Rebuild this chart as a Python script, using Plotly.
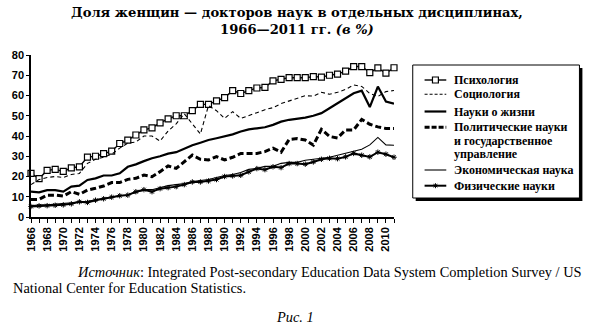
import plotly.graph_objects as go

# ---- data -------------------------------------------------------------
years = list(range(1966, 2012))

psychology = [21.5, 19, 23, 23.5, 22.5, 24.3, 24.8, 29.6, 30, 31.3,
              32.5, 36.3, 38, 40.5, 43, 44, 46.5, 48.5, 50, 50,
              52.5, 55.6, 55.6, 57.3, 59, 62.4, 61, 62.4, 63.7, 64,
              67.2, 68, 68.8, 68.8, 68.8, 69.3, 69.1, 70, 70.6, 72,
              74.3, 74.3, 71.3, 73.6, 71, 73.7]

sociology = [16, 18.5, 19.5, 20, 19.5, 21, 21.5, 26.5, 28.5, 29.5,
             31, 34, 36.5, 37, 40, 40, 37.5, 42.5, 46, 51,
             46, 41, 55, 52.5, 48.7, 52, 48.7, 50, 51.5, 53,
             54, 56, 57.4, 58.6, 59.9, 59.7, 61.6, 60.6, 61.6, 63,
             65.2, 64.5, 61, 59.5, 61.9, 62.5]

life_sciences = [12.5, 12.2, 13.3, 13.3, 12.5, 15, 15.5, 18.3, 19.1, 20.5,
                 20.5, 21.6, 24.8, 26, 27.6, 29, 30, 31.3, 32, 33.8,
                 35.4, 36.7, 38, 38.9, 39.7, 40.8, 42.2, 43.3, 43.8, 44.3,
                 45.5, 47.1, 48, 48.5, 49.1, 50, 51.3, 53.7, 56.1, 58.6,
                 61.1, 62.4, 54.3, 64.4, 57, 56]

political = [8.7, 8.7, 10.8, 10.8, 10.3, 12.5, 11.2, 13.3, 14.2, 15.3,
             17, 17, 18.6, 19.1, 20.7, 19.9, 22.4, 25.2, 24, 27.3,
             30.6, 28.5, 28.2, 29.8, 28.2, 29.5, 31.4, 31.4, 31.4, 32.3,
             34, 32, 38.3, 38.7, 38, 35.5, 43.3, 39.8, 39, 43,
             43, 48.2, 45.8, 44.5, 43.7, 43.7]

economics = [5.5, 6, 6, 6.3, 6.5, 7, 7.5, 7.8, 8.5, 9,
             9.8, 10.5, 11, 12, 13.5, 13.5, 14.5, 15.5, 16, 16.5,
             17.5, 18, 18.5, 19.5, 20.5, 21, 22, 23.5, 24, 25,
             25, 26.5, 27, 27, 28, 28.5, 29, 29.5, 30.5, 31.5,
             32.2, 33.5, 35.6, 39.3, 35.6, 35.4]

physical = [5.2, 5.5, 5.6, 5.8, 6, 6.5, 7.5, 7.2, 8.3, 9,
            9.8, 10.5, 10.8, 12.5, 13.5, 12.5, 14, 14.5, 15, 16,
            17.3, 17.3, 17.8, 18.5, 20, 20.3, 20.6, 22.3, 23.9, 23.4,
            24.8, 24.4, 26.4, 26.4, 26.1, 27.2, 28.5, 29, 28.8, 29.7,
            31.4, 30.5, 29.7, 32, 31, 29.5]

legend_labels = ["Психология", "Социология", "Науки о жизни",
                 "Политические науки<br>и государственное<br>управление",
                 "Экономическая наука", "Физические науки"]

# ---- geometry helpers (page pixels -> paper coordinates) --------------
W, H = 595, 327
L, R, T, B = 26, 394, 55, 217


def px(x):
    return (x - L) / (R - L)


def py(y):
    return (B - y) / (B - T)


SERIF = "Liberation Serif, Times New Roman, serif"
WIDE_SERIF = "DejaVu Serif, serif"
SANS = "Liberation Sans, Arial, sans-serif"

fig = go.Figure()

fig.add_trace(go.Scatter(
    x=years, y=psychology, mode="lines+markers", name=legend_labels[0],
    line=dict(color="black", width=1.4),
    marker=dict(symbol="square", size=6, color="white",
                line=dict(color="black", width=1.2)),
    cliponaxis=False))
fig.add_trace(go.Scatter(
    x=years, y=sociology, mode="lines", name=legend_labels[1],
    line=dict(color="black", width=1.1, dash="4px,3px")))
fig.add_trace(go.Scatter(
    x=years, y=life_sciences, mode="lines", name=legend_labels[2],
    line=dict(color="black", width=2.2)))
fig.add_trace(go.Scatter(
    x=years, y=political, mode="lines", name=legend_labels[3],
    line=dict(color="black", width=3, dash="6px,3px")))
fig.add_trace(go.Scatter(
    x=years, y=economics, mode="lines", name=legend_labels[4],
    line=dict(color="black", width=1.1)))
fig.add_trace(go.Scatter(
    x=years, y=physical, mode="lines+markers", name=legend_labels[5],
    line=dict(color="black", width=2),
    marker=dict(symbol="asterisk-open", size=4.5,
                line=dict(color="black", width=1)),
    cliponaxis=False))

# ---- legend box drawn by hand ------------------------------------------
shapes = []
annotations = []
box = (413, 65, 582, 198)
shapes.append(dict(type="rect", xref="paper", yref="paper",
                   x0=px(box[0] + 3), x1=px(box[2] + 3),
                   y0=py(box[1] + 3), y1=py(box[3] + 3),
                   fillcolor="black", line=dict(width=0), layer="above"))
shapes.append(dict(type="rect", xref="paper", yref="paper",
                   x0=px(box[0]), x1=px(box[2]),
                   y0=py(box[1]), y1=py(box[3]),
                   fillcolor="white", line=dict(color="black", width=1),
                   layer="above"))

key_x0, key_x1, text_x = 425, 447, 453
entry_rows = [80, 94.3, 111.5, 127.3, 170, 185.7]
key_styles = [
    dict(width=1.4, dash="solid"),
    dict(width=1.1, dash="3px,2px"),
    dict(width=2.2, dash="solid"),
    dict(width=3, dash="5px,2px"),
    dict(width=1.1, dash="solid"),
    dict(width=2, dash="solid"),
]
for row, style in zip(entry_rows, key_styles):
    shapes.append(dict(type="line", xref="paper", yref="paper",
                       x0=px(key_x0), x1=px(key_x1), y0=py(row), y1=py(row),
                       line=dict(color="black", **style), layer="above"))

# square key marker
cx = (key_x0 + key_x1) / 2
shapes.append(dict(type="rect", xref="paper", yref="paper",
                   x0=px(cx - 3), x1=px(cx + 3),
                   y0=py(entry_rows[0] - 3), y1=py(entry_rows[0] + 3),
                   fillcolor="white", line=dict(color="black", width=1.2),
                   layer="above"))
# asterisk key marker
ry = entry_rows[5]
for dx0, dy0, dx1, dy1 in [(0, -2.5, 0, 2.5), (-2, -1.5, 2, 1.5), (-2, 1.5, 2, -1.5)]:
    shapes.append(dict(type="line", xref="paper", yref="paper",
                       x0=px(cx + dx0), x1=px(cx + dx1),
                       y0=py(ry + dy0), y1=py(ry + dy1),
                       line=dict(color="black", width=1), layer="above"))

text_rows = [(legend_labels[0], 80), (legend_labels[1], 94.3),
             (legend_labels[2], 111.5), ("Политические науки", 127.3),
             ("и государственное", 140.7), ("управление", 154),
             (legend_labels[4], 170), (legend_labels[5], 185.7)]
for txt, row in text_rows:
    annotations.append(dict(text=f"<b>{txt}</b>", xref="paper", yref="paper",
                            x=px(text_x), y=py(row), xanchor="left",
                            yanchor="middle", showarrow=False,
                            font=dict(family=SERIF, size=12, color="black")))

# ---- title, source and caption ------------------------------------------
annotations.append(dict(
    text="<b>Доля женщин — докторов наук в отдельных дисциплинах,</b><br>"
         "<b>1966—2011 гг. <i>(в %)</i></b>",
    xref="paper", yref="paper", x=px(296), y=py(21),
    xanchor="center", yanchor="middle", showarrow=False,
    font=dict(family=WIDE_SERIF, size=13.1, color="black")))
annotations.append(dict(
    text="<i>Источник</i>: Integrated Post-secondary Education Data System "
         "Completion Survey / US",
    xref="paper", yref="paper", x=px(71), y=py(272),
    xanchor="left", yanchor="middle", showarrow=False,
    font=dict(family=SERIF, size=14.4, color="black")))
annotations.append(dict(
    text="National Center for Education Statistics.",
    xref="paper", yref="paper", x=px(6), y=py(288),
    xanchor="left", yanchor="middle", showarrow=False,
    font=dict(family=SERIF, size=14.4, color="black")))
annotations.append(dict(
    text="<i>Рис. 1</i>",
    xref="paper", yref="paper", x=px(294), y=py(317),
    xanchor="center", yanchor="middle", showarrow=False,
    font=dict(family=SERIF, size=14.4, color="black")))

fig.update_layout(
    width=W, height=H,
    margin=dict(l=L, r=W - R, t=T, b=H - B, pad=0),
    paper_bgcolor="white", plot_bgcolor="white",
    showlegend=False,
    shapes=shapes, annotations=annotations,
    xaxis=dict(range=[1966, 2011], tick0=1966, dtick=2,
               showgrid=False, zeroline=False,
               showline=True, linecolor="black", linewidth=1.5,
               ticks="outside", ticklen=4, tickwidth=1, tickcolor="black",
               tickangle=-90,
               tickfont=dict(family=SANS, size=11, color="black", weight="bold"),
               minor=dict(dtick=1, ticks="outside", ticklen=4,
                          tickcolor="black", tickwidth=1)),
    yaxis=dict(range=[0, 80], dtick=10, showgrid=False, zeroline=False,
               showline=True, linecolor="black", linewidth=1.5,
               ticks="outside", ticklen=3, tickwidth=1, tickcolor="black",
               tickfont=dict(family=SANS, size=11, color="black", weight="bold")),
)

fig.write_html("out.html")
